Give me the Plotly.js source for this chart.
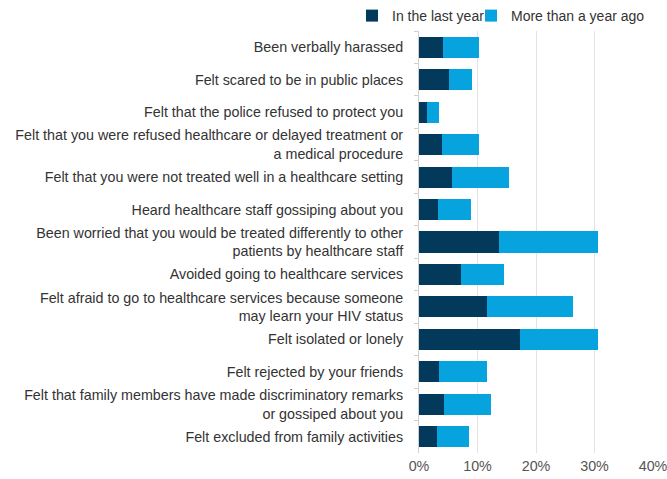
<!DOCTYPE html>
<html>
<head>
<meta charset="utf-8">
<script src="https://cdn.plot.ly/plotly-3.0.1.min.js"></script>
<style>html,body{margin:0;padding:0;background:#fff;}#chart{width:667px;height:479px;}</style>
</head>
<body>
<div id="chart"></div>
<script>
var categories = [
  "Been verbally harassed",
  "Felt scared to be in public places",
  "Felt that the police refused to protect you",
  "Felt that you were refused healthcare or delayed treatment or<br>a medical procedure",
  "Felt that you were not treated well in a healthcare setting",
  "Heard healthcare staff gossiping about you",
  "Been worried that you would be treated differently to other<br>patients by healthcare staff",
  "Avoided going to healthcare services",
  "Felt afraid to go to healthcare services because someone<br>may learn your HIV status",
  "Felt isolated or lonely",
  "Felt rejected by your friends",
  "Felt that family members have made discriminatory remarks<br>or gossiped about you",
  "Felt excluded from family activities"
];
var lastYear = [4.1, 5.2, 1.3, 3.9, 5.7, 3.3, 13.6, 7.1, 11.7, 17.3, 3.4, 4.2, 3.0];
var moreThanYear = [6.1, 3.8, 2.2, 6.4, 9.7, 5.6, 17.0, 7.5, 14.6, 13.3, 8.2, 8.1, 5.6];
var xTickVals = [0, 10, 20, 30, 40];
var xTickText = ["0%", "10%", "20%", "30%", "40%"];

var traces = [
  {type: "bar", orientation: "h", name: "In the last year", y: categories, x: lastYear,
   marker: {color: "#033a5b"}, hoverinfo: "x+y", legend: "legend"},
  {type: "bar", orientation: "h", name: "More than a year ago", y: categories, x: moreThanYear,
   marker: {color: "#06a3df"}, hoverinfo: "x+y", legend: "legend2"}
];
var legendBase = {orientation: "h", xref: "container", xanchor: "left", y: 1.0, yanchor: "top",
  yref: "container", font: {size: 14, color: "#333333"}, itemwidth: 30,
  bgcolor: "rgba(0,0,0,0)", borderwidth: 0};
var layout = {
  width: 667, height: 479,
  margin: {l: 419, r: 14, t: 31, b: 26, pad: 0, autoexpand: false},
  barmode: "stack",
  bargap: 0.35,
  paper_bgcolor: "#ffffff", plot_bgcolor: "#ffffff",
  font: {family: "Liberation Sans, Arial, sans-serif", size: 14.3, color: "#333333"},
  showlegend: true,
  legend: Object.assign({}, legendBase, {x: 352 / 667}),
  legend2: Object.assign({}, legendBase, {x: 471 / 667}),
  xaxis: {range: [0, 40], tickvals: xTickVals, ticktext: xTickText, showgrid: true,
          gridcolor: "#e3e3e3", gridwidth: 1, zeroline: false, showline: false, ticks: "",
          ticklabelstandoff: 3, ticklabeloverflow: "allow",
          tickfont: {size: 14.3, color: "#555555"}, fixedrange: true},
  yaxis: {autorange: "reversed", showline: true, linecolor: "#d0d0d0", linewidth: 1,
          ticks: "outside", tickson: "boundaries", ticklen: 4, tickcolor: "#d0d0d0",
          ticklabelstandoff: 12,
          tickfont: {size: 14.3, color: "#333333"}, showgrid: false, fixedrange: true}
};
Plotly.newPlot("chart", traces, layout, {displayModeBar: false, staticPlot: true});
</script>
</body>
</html>
